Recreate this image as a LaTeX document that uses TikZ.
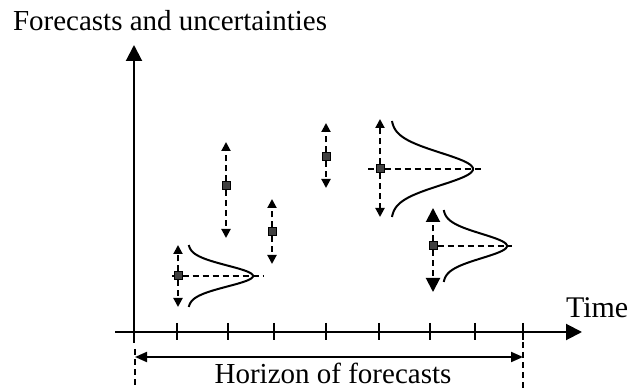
\documentclass[tikz,border=0pt]{standalone}
\usepackage{fontspec}
\setmainfont{Liberation Serif}
\usetikzlibrary{arrows.meta}
\tikzset{
    >=Triangle,
    axis/.style={draw,line width=1pt,-{Triangle[width=8pt,length=8pt]}},
    unc/.style={draw,line width=1pt,dash pattern=on 3pt off 2pt,-{Triangle[width=4.5pt,length=4.5pt]}},
    bigunc/.style={draw,line width=1pt,dash pattern=on 3pt off 2pt,-{Triangle[width=7pt,length=7pt]}}
}

\begin{document}
\begin{tikzpicture}[x=0.5pt,y=-0.5pt,line width=1pt,
                    pt/.style={rectangle,draw,fill=black!75,line width=0.5pt,minimum size=4pt,inner sep=0pt},
                    bell/.style={draw,line width=1pt,smooth},
                    guide/.style={draw,line width=1pt,dash pattern=on 3pt off 2pt},
                    lbl/.style={inner sep=0pt,font=\fontsize{14.5}{17}\selectfont}]
\useasboundingbox (0,0) rectangle (631,389);

% Axes
\coordinate (O) at (134,332);
\coordinate (ytop) at (134,45);
\coordinate (ybot) at (134,343);
\coordinate (xleft) at (115,332);
\coordinate (xright) at (582,332);
\draw[axis] (ybot) -- (ytop);
\draw[axis] (xleft) -- (xright);
\foreach \t in {177,228,274,326,379,430,475,523}
    \draw (\t,323) -- (\t,340);

\node[lbl,anchor=base west] (ylabel) at (12,31) {Forecasts and uncertainties};
\node[lbl,anchor=base west,font=\fontsize{15}{18}\selectfont] (xlabel) at (565,318) {Time};

% Horizon
\coordinate (hl) at (135,357);
\coordinate (hr) at (523,357);
\coordinate (hlb) at (135,389);
\coordinate (hrt) at (523,342);
\coordinate (hrb) at (523,389);
\draw[guide] (135,349) -- (hlb);
\draw[guide] (hrt) -- (hrb);
\draw[{Triangle[width=5pt,length=6pt]}-{Triangle[width=5pt,length=6pt]}] (hl) -- (hr);
\node[lbl,anchor=base] (hlabel) at (333,383) {Horizon of forecasts};

% Forecasts
\node[pt] (p1) at (178,276) {};
\node[pt] (p2) at (226,186) {};
\node[pt] (p3) at (272,232) {};
\node[pt] (p4) at (326,157) {};
\node[pt] (p5) at (380,169) {};
\node[pt] (p6) at (433,246) {};

% Uncertainties
\coordinate (p1u) at (178,245); \coordinate (p1d) at (178,307);
\coordinate (p2u) at (226,142); \coordinate (p2d) at (226,238);
\coordinate (p3u) at (272,199); \coordinate (p3d) at (272,264);
\coordinate (p4u) at (326,123); \coordinate (p4d) at (326,188);
\coordinate (p5u) at (380,119); \coordinate (p5d) at (380,217);
\coordinate (p6u) at (433,208); \coordinate (p6d) at (433,292);
\foreach \p in {p1,p2,p3,p4,p5} {
    \draw[unc] (\p.north) -- (\p u);
    \draw[unc] (\p.south) -- (\p d);
}
\draw[bigunc] (p6.north) -- (p6u);
\draw[bigunc] (p6.south) -- (p6d);

% Distributions
\coordinate (p1l) at (172,276); \coordinate (p1r) at (263,276);
\coordinate (p5l) at (368,169); \coordinate (p5r) at (483,169);
\coordinate (p6r) at (512,246);
\draw[guide] (p1l) -- (p1.west);
\draw[guide] (p1.east) -- (p1r);
\draw[guide] (p5l) -- (p5.west);
\draw[guide] (p5.east) -- (p5r);
\draw[guide] (p6.east) -- (p6r);
\draw[bell] plot[domain=-31:31,samples=61] ({188+65*exp(-((\x)*(\x))/219)},{276+\x});
\draw[bell] plot[domain=-48:48,samples=81] ({391+82*exp(-((\x)*(\x))/524)},{169+\x});
\draw[bell] plot[domain=-36:36,samples=61] ({443+64*exp(-((\x)*(\x))/294)},{246+\x});

\end{tikzpicture}
\end{document}
